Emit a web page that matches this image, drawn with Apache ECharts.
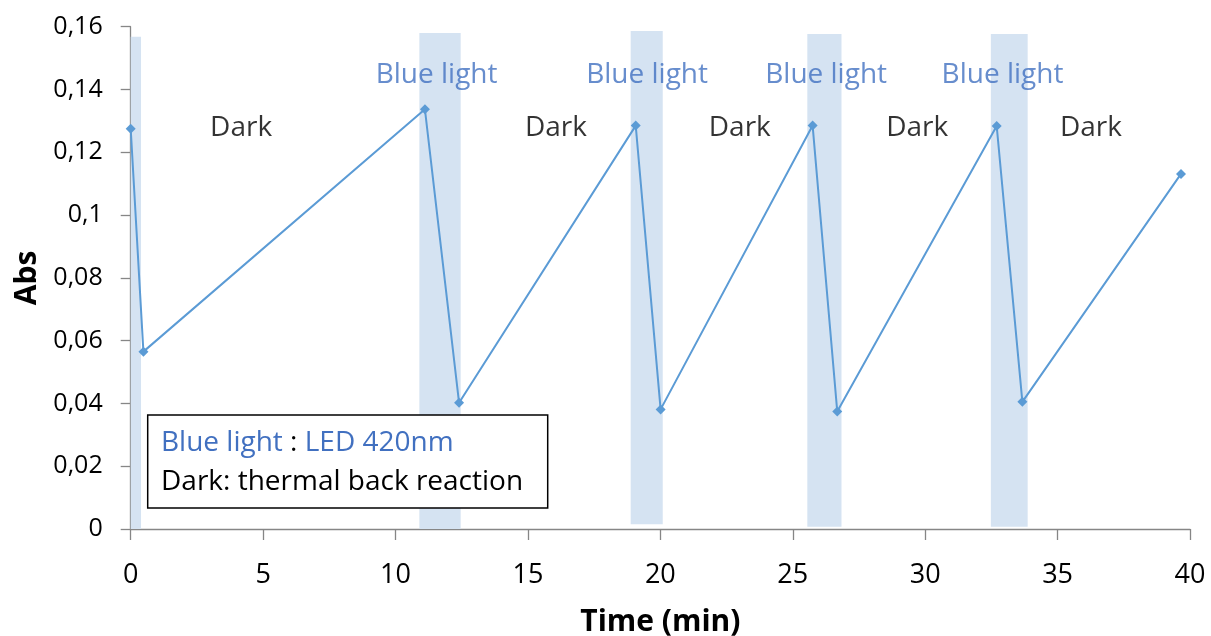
<!DOCTYPE html>
<html>
<head>
<meta charset="utf-8">
<script src="https://cdn.jsdelivr.net/npm/echarts@6/dist/echarts.min.js"></script>
<style>
  html, body { margin: 0; padding: 0; background: #fff; }
  #chart { width: 1211px; height: 636px; }
</style>
</head>
<body>
<div id="chart"></div>
<script>
// Absorbance measured during alternating blue-light / dark periods
const timeMin    = [0, 0.48, 11.11, 12.40, 19.07, 20.01, 25.75, 26.68, 32.70, 33.67, 39.66];
const absorbance = [0.1275, 0.0565, 0.1337, 0.0402, 0.1285, 0.0381, 0.1285, 0.0374, 0.1284, 0.0405, 0.1131];

// Irradiation windows (blue light on)
const bandStart  = [-0.1, 10.90, 18.88, 25.55, 32.48];
const bandEnd    = [0.39, 12.46, 20.09, 26.84, 33.87];
const bandTop    = [0.1568, 0.1580, 0.1586, 0.1577, 0.1577];
const bandBottom = [0, 0, 0.0015, 0.0007, 0.0007];

// Phase annotations
const blueLabelX = [11.55, 19.5, 26.26, 32.92];
const blueLabelY = [0.1447, 0.1447, 0.1447, 0.1447];
const darkLabelX = [4.17, 16.06, 23.0, 29.7, 36.26];
const darkLabelY = [0.1277, 0.1277, 0.1277, 0.1277, 0.1277];

// Axis ticks
const xTicks = { min: 0, max: 40, interval: 5 };
const yTicks = { min: 0, max: 0.16, interval: 0.02 };

const FONT = '"Open Sans"';
const BLUE_TEXT = '#4170C0';
const LINE_BLUE = '#5B9BD5';
const BAND = '#D5E3F2';
const AXIS = '#868686';

const chart = echarts.init(document.getElementById('chart'), null, { renderer: 'canvas' });

const bandAreas = bandStart.map((s, i) => [
  { xAxis: s, yAxis: bandBottom[i] },
  { xAxis: bandEnd[i], yAxis: bandTop[i] }
]);

function labelSeries(xs, ys, text, color) {
  return {
    type: 'scatter',
    symbolSize: 0,
    silent: true,
    z: 5,
    data: xs.map((x, i) => [x, ys[i]]),
    label: {
      show: true,
      position: 'inside',
      formatter: text,
      color: color,
      fontFamily: FONT,
      fontSize: 28
    }
  };
}

const option = {
  animation: false,
  backgroundColor: '#fff',
  grid: {
    left: 130.7, right: 21, top: 26.7, bottom: 107,
    containLabel: false,
    outerBoundsMode: 'none'
  },
  xAxis: {
    type: 'value',
    min: xTicks.min, max: xTicks.max, interval: xTicks.interval,
    name: 'Time (min)',
    nameLocation: 'middle',
    nameGap: 78,
    nameTextStyle: { fontFamily: FONT, fontWeight: 'bold', fontSize: 30, color: '#000' },
    axisLine: { show: true, onZero: false, lineStyle: { color: AXIS, width: 1.3 } },
    axisTick: { show: true, inside: false, length: 11, lineStyle: { color: AXIS, width: 1.3 } },
    axisLabel: { fontFamily: FONT, fontSize: 27, color: '#000', margin: 33 },
    splitLine: { show: false }
  },
  yAxis: {
    type: 'value',
    min: yTicks.min, max: yTicks.max, interval: yTicks.interval,
    name: 'Abs',
    nameLocation: 'middle',
    nameGap: 88,
    nameRotate: 90,
    nameTextStyle: { fontFamily: FONT, fontWeight: 'bold', fontSize: 30, color: '#000' },
    axisLine: { show: true, onZero: false, lineStyle: { color: AXIS, width: 1.3 } },
    axisTick: { show: true, inside: false, length: 10, lineStyle: { color: AXIS, width: 1.3 } },
    axisLabel: {
      fontFamily: FONT, fontSize: 25, color: '#000', margin: 28,
      formatter: v => v === 0 ? '0' : String(+v.toFixed(2)).replace('.', ',')
    },
    splitLine: { show: false }
  },
  series: [
    {
      type: 'line',
      data: timeMin.map((t, i) => [t, absorbance[i]]),
      symbol: 'diamond',
      symbolSize: 10,
      z: 4,
      lineStyle: { color: LINE_BLUE, width: 2 },
      itemStyle: { color: LINE_BLUE },
      markArea: {
        silent: true,
        itemStyle: { color: BAND },
        data: bandAreas
      }
    },
    labelSeries(blueLabelX, blueLabelY, 'Blue light', BLUE_TEXT),
    labelSeries(darkLabelX, darkLabelY, 'Dark', '#000')
  ],
  graphic: [
    {
      type: 'rect',
      z: 100,
      shape: { x: 147.7, y: 415, width: 400, height: 93 },
      style: { fill: '#fff', stroke: '#000', lineWidth: 1.5 }
    },
    {
      type: 'text',
      z: 101,
      x: 161, y: 443.5,
      style: {
        text: '{b|Blue light} : {b|LED 420nm}',
        verticalAlign: 'middle',
        font: '28px ' + FONT,
        fill: '#000',
        rich: {
          b: { fill: BLUE_TEXT, fontFamily: FONT, fontSize: 28 }
        }
      }
    },
    {
      type: 'text',
      z: 101,
      x: 161, y: 482,
      style: {
        text: 'Dark: thermal back reaction',
        verticalAlign: 'middle',
        font: '28px ' + FONT,
        fill: '#000'
      }
    }
  ]
};

chart.setOption(option);
</script>
</body>
</html>
